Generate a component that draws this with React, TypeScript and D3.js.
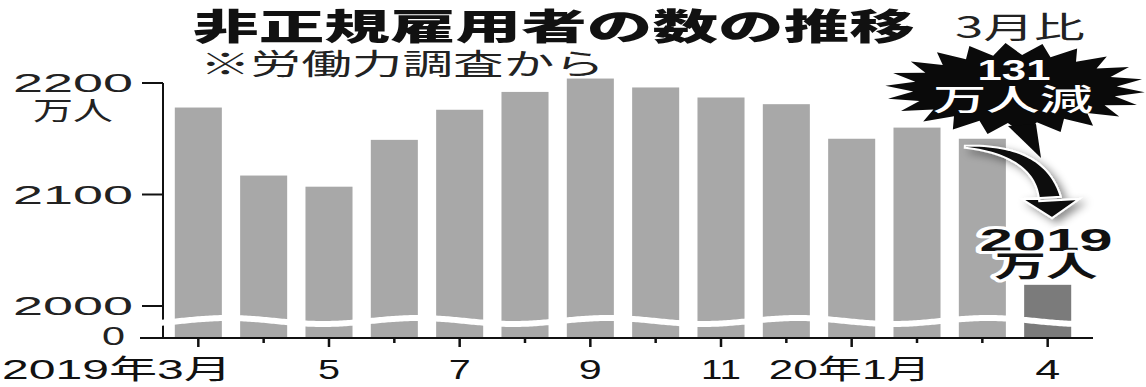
import React from "react";
import * as d3 from "d3";

const months = [
  "2019-03", "2019-04", "2019-05", "2019-06", "2019-07", "2019-08", "2019-09",
  "2019-10", "2019-11", "2019-12", "2020-01", "2020-02", "2020-03", "2020-04",
];
const values = [2178, 2117, 2107, 2149, 2176, 2192, 2204, 2196, 2187, 2181, 2150, 2160, 2150, 2019];
const xTickLabels = ["2019年3月", "", "5", "", "7", "", "9", "", "11", "", "20年1月", "", "", "4"];
const yTicks = [0, 2000, 2100, 2200];
const yTickLabels = ["0", "2000", "2100", "2200"];

const W = 1146;
const H = 387;
const FONT = "'Liberation Sans', 'Noto Sans CJK JP', sans-serif";
const JFONT = "'Noto Sans CJK JP', sans-serif";

export default function App() {
  const x = d3.scaleBand<string>().domain(months).range([165, 1081]).paddingInner(0.28).paddingOuter(0.15);
  // broken scale: 0 -> baseline, 2000..2200 expanded
  const y = d3.scaleLinear().domain([0, 2000, 2200]).range([338, 306, 83]);

  const bw = x.bandwidth();
  const cx = (m: string) => (x(m) as number) + bw / 2;

  // wavy break line
  const waveXs = d3.range(158, 1090, 2);
  const wave = d3.line<number>().x((d) => d).y((d) => 321 - 3 * Math.cos((2 * Math.PI * (d - 228)) / 190))(waveXs) as string;

  // starburst
  const bcx = 1015, bcy = 89, N = 22;
  const burstPts: [number, number][] = d3.range(2 * N).map((i) => {
    const a = (i * Math.PI) / N + 0.07;
    const outer = i % 2 === 0;
    const rx = outer ? 130 : 102;
    const ry = outer ? 46 : 34;
    return [bcx + rx * Math.cos(a), bcy + ry * Math.sin(a)];
  });
  const burst = "M" + burstPts.map((p) => p.join(",")).join("L") + "Z";

  // curved arrow from Mar bar to Apr value
  const m13 = months[12];
  const p0: [number, number] = [(x(m13) as number) + 6, y(values[12]) + 8];
  const c1: [number, number] = [1040, 150];
  const p2: [number, number] = [1050, 199];
  const steps = 30;
  const left: [number, number][] = [];
  const right: [number, number][] = [];
  for (let i = 0; i <= steps; i++) {
    const t = i / steps;
    const px = (1 - t) * (1 - t) * p0[0] + 2 * (1 - t) * t * c1[0] + t * t * p2[0];
    const py = (1 - t) * (1 - t) * p0[1] + 2 * (1 - t) * t * c1[1] + t * t * p2[1];
    const dx = 2 * (1 - t) * (c1[0] - p0[0]) + 2 * t * (p2[0] - c1[0]);
    const dy = 2 * (1 - t) * (c1[1] - p0[1]) + 2 * t * (p2[1] - c1[1]);
    const len = Math.hypot(dx, dy);
    const nx = -dy / len, ny = dx / len;
    const w = 1 + 10 * t;
    left.push([px + nx * w, py + ny * w]);
    right.push([px - nx * w, py - ny * w]);
  }
  const headY = p2[1];
  const arrowPts = [
    ...left,
    [p2[0] + 29, headY],
    [p2[0] + 2, headY + 19],
    [p2[0] - 28, headY],
    ...right.reverse(),
  ];
  const arrow = "M" + arrowPts.map((p) => p.join(",")).join("L") + "Z";

  return (
    <svg width={W} height={H} style={{ display: "block", position: "absolute", left: 0, top: 0, background: "#fff" }}>
      <defs>
        <filter id="sh" x="-30%" y="-30%" width="160%" height="160%">
          <feDropShadow dx="5" dy="4" stdDeviation="4" floodColor="#000" floodOpacity="0.45" />
        </filter>
      </defs>
      <rect width={W} height={H} fill="#fff" />

      {/* title */}
      <text x={193} y={40} fontFamily={JFONT} fontWeight={900} fontSize={36} textLength={722} lengthAdjust="spacingAndGlyphs" fill="#111">
        非正規雇用者の数の推移
      </text>
      <text x={200} y={75} fontFamily={JFONT} fontSize={29} textLength={405} lengthAdjust="spacingAndGlyphs" fill="#222">
        ※労働力調査から
      </text>
      <text x={955} y={38} fontFamily={JFONT} fontSize={30} textLength={130} lengthAdjust="spacingAndGlyphs" fill="#222">
        3月比
      </text>

      {/* bars */}
      {months.map((m, i) => (
        <rect key={m} x={x(m)} y={y(values[i])} width={bw} height={y(0) - y(values[i])} fill={i === months.length - 1 ? "#7b7b7b" : "#a8a8a8"} />
      ))}

      {/* y axis */}
      <line x1={163} x2={163} y1={y(2200)} y2={y(0)} stroke="#111" strokeWidth={2} />
      {yTicks.map((t, i) => (
        <g key={t}>
          {t !== 0 && <line x1={142} x2={163} y1={y(t)} y2={y(t)} stroke="#111" strokeWidth={2} />}
          <text
            x={t === 0 ? 125 : 133}
            y={y(t) + (t === 0 ? 7 : 9)}
            textAnchor="end"
            fontFamily={FONT}
            fontSize={26}
            textLength={t === 0 ? 23 : 120}
            lengthAdjust="spacingAndGlyphs"
            fill="#222"
          >
            {yTickLabels[i]}
          </text>
        </g>
      ))}
      <text x={33} y={120} fontFamily={JFONT} fontSize={26} textLength={80} lengthAdjust="spacingAndGlyphs" fill="#222">
        万人
      </text>

      {/* x axis */}
      <line x1={140} x2={1093} y1={y(0)} y2={y(0)} stroke="#111" strokeWidth={2} />
      {months.map((m, i) => (
        <line key={m} x1={cx(m)} x2={cx(m)} y1={y(0)} y2={y(0) + (xTickLabels[i] ? 9 : 5)} stroke="#111" strokeWidth={2.5} />
      ))}
      {months.map((m, i) => {
        const lab = xTickLabels[i];
        if (!lab) return null;
        const isFirst = i === 0;
        const lens: Record<string, number> = { "2019年3月": 230, "5": 22, "7": 22, "9": 23, "11": 40, "20年1月": 162, "4": 25 };
        return (
          <text
            key={m}
            x={isFirst ? 232 : cx(m) + (lab === "20年1月" ? -2 : 0)}
            y={379}
            textAnchor={isFirst ? "end" : "middle"}
            fontFamily={FONT}
            fontSize={27}
            textLength={lens[lab]}
            lengthAdjust="spacingAndGlyphs"
            fill="#111"
          >
            {lab}
          </text>
        );
      })}

      {/* axis break wave */}
      <path d={wave} fill="none" stroke="#fff" strokeWidth={6} />

      {/* starburst */}
      <path d={burst} fill="#0a0a0a" />
      <path d="M1008,126 L1036,124 L1041,158 Z" fill="#0a0a0a" />
      <text x={1014} y={80} textAnchor="middle" fontFamily={FONT} fontWeight={700} fontSize={30} textLength={73} lengthAdjust="spacingAndGlyphs" fill="#fff">
        131
      </text>
      <text x={1013} y={110} textAnchor="middle" fontFamily={JFONT} fontWeight={500} fontSize={30} textLength={160} lengthAdjust="spacingAndGlyphs" fill="#fff">
        万人減
      </text>

      {/* arrow */}
      <path d={arrow} fill="#0a0a0a" stroke="#fff" strokeWidth={2} filter="url(#sh)" />

      {/* value label */}
      <text x={1046} y={251} textAnchor="middle" fontFamily={FONT} fontWeight={700} fontSize={31} textLength={133} lengthAdjust="spacingAndGlyphs" fill="#111" stroke="#fff" strokeWidth={6} paintOrder="stroke" strokeLinejoin="round">
        2019
      </text>
      <text x={1046} y={277} textAnchor="middle" fontFamily={JFONT} fontWeight={700} fontSize={29} textLength={103} lengthAdjust="spacingAndGlyphs" fill="#111" stroke="#fff" strokeWidth={6} paintOrder="stroke" strokeLinejoin="round">
        万人
      </text>
    </svg>
  );
}
